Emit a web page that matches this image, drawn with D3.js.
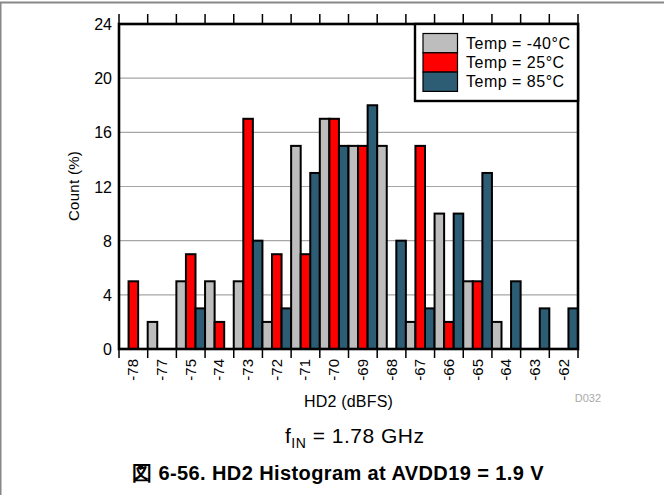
<!DOCTYPE html>
<html><head><meta charset="utf-8">
<script src="https://cdn.jsdelivr.net/npm/d3@7"></script>
<style>body{margin:0;background:#fff}svg{display:block;font-family:"Liberation Sans",Arial,sans-serif}</style>
</head><body><svg id="c" width="664" height="495"></svg>
<script>
const categories = ["-78","-77","-75","-74","-73","-72","-71","-70","-69","-68","-67","-66","-65","-64","-63","-62"];
const seriesNames = ["Temp = -40°C","Temp = 25°C","Temp = 85°C"];
const tempM40 = [0,2,5,5,5,2,15,17,15,15,2,10,5,2,0,0];
const temp25  = [5,0,7,2,17,7,7,17,15,0,15,2,5,0,0,0];
const temp85  = [0,0,3,0,8,3,13,15,18,8,3,10,13,5,3,3];
const yTicks = [0,4,8,12,16,20,24];
const colors = ["#bdbdbd","#ff0000","#2c5d75"];
const series = [tempM40, temp25, temp85];

const svg = d3.select("#c");
const L=119, R=578, T=24, B=349;
const x = d3.scaleBand().domain(categories).range([L,R]).padding(0);
const xs = d3.scaleBand().domain(d3.range(3)).range([0,x.bandwidth()]).padding(0);
const y = d3.scaleLinear().domain([0,24]).range([B,T]);

// page border
svg.append("line").attr("x1",0).attr("x2",664).attr("y1",2.5).attr("y2",2.5).attr("stroke","#888").attr("stroke-width",2);
svg.append("line").attr("x1",0.5).attr("x2",0.5).attr("y1",2).attr("y2",495).attr("stroke","#888").attr("stroke-width",2);

// gridlines
svg.append("g").selectAll("line").data(yTicks.filter(d=>d>0&&d<24)).join("line")
  .attr("x1",L).attr("x2",R).attr("y1",d=>y(d)).attr("y2",d=>y(d))
  .attr("stroke","#a6a6a6").attr("stroke-width",1.2);

// bars
const g = svg.append("g");
categories.forEach((c,i)=>{
  series.forEach((s,j)=>{
    if(s[i]>0){
      g.append("rect").attr("x",x(c)+xs(j)).attr("y",y(s[i]))
        .attr("width",xs.bandwidth()).attr("height",y(0)-y(s[i]))
        .attr("fill",colors[j]).attr("stroke","#000").attr("stroke-width",2);
    }
  });
});

// ticks top & bottom at band boundaries
const bounds = categories.map(c=>x(c)).concat([R]);
svg.append("g").selectAll("line").data(bounds).join("line")
  .attr("x1",d=>d).attr("x2",d=>d).attr("y1",T-10).attr("y2",T).attr("stroke","#000").attr("stroke-width",1.5);
svg.append("g").selectAll("line").data(bounds).join("line")
  .attr("x1",d=>d).attr("x2",d=>d).attr("y1",B).attr("y2",B+9).attr("stroke","#000").attr("stroke-width",1.5);

// frame
svg.append("rect").attr("x",L).attr("y",T).attr("width",R-L).attr("height",B-T)
  .attr("fill","none").attr("stroke","#000").attr("stroke-width",2.6);

// y labels
svg.append("g").selectAll("text").data(yTicks).join("text")
  .attr("x",112).attr("y",d=>y(d)+6).attr("text-anchor","end")
  .attr("font-size",16).text(d=>d);

// x labels
svg.append("g").selectAll("text").data(categories).join("text")
  .attr("transform",d=>`translate(${x(d)+x.bandwidth()/2+5},${B+10}) rotate(-90)`)
  .attr("text-anchor","end").attr("font-size",15).text(d=>d);

// axis titles
svg.append("text").attr("transform","translate(79,186) rotate(-90)").attr("text-anchor","middle")
  .attr("font-size",15).attr("letter-spacing",0.3).text("Count (%)");
svg.append("text").attr("x",(L+R)/2).attr("y",407).attr("text-anchor","middle").attr("font-size",16).attr("letter-spacing",0.2).text("HD2 (dBFS)");
svg.append("text").attr("x",601).attr("y",402).attr("text-anchor","end").attr("font-size",11).attr("fill","#aaa").text("D032");

// fIN
const f = svg.append("text").attr("x",285).attr("y",443).attr("font-size",21).attr("letter-spacing",0.5);
f.append("tspan").text("f");
f.append("tspan").attr("font-size",14).attr("dy",5).text("IN");
f.append("tspan").attr("dy",-5).text(" = 1.78 GHz");

// caption
svg.append("text").attr("x",338).attr("y",480).attr("text-anchor","middle").attr("font-size",20).attr("font-weight","bold")
  .attr("letter-spacing",0.4)
  .text("図 6-56. HD2 Histogram at AVDD19 = 1.9 V");

// legend
const lg = svg.append("g");
lg.append("rect").attr("x",415).attr("y",T).attr("width",R-415).attr("height",77)
  .attr("fill","#fff").attr("stroke","#000").attr("stroke-width",2.4);
seriesNames.forEach((n,j)=>{
  lg.append("rect").attr("x",423).attr("y",33.5+j*19.3).attr("width",34.5).attr("height",19.3)
    .attr("fill",colors[j]).attr("stroke","#000").attr("stroke-width",1.2);
  lg.append("text").attr("x",466).attr("y",48.5+j*19.3).attr("font-size",16).attr("letter-spacing",0.5).text(n);
});
</script></body></html>
